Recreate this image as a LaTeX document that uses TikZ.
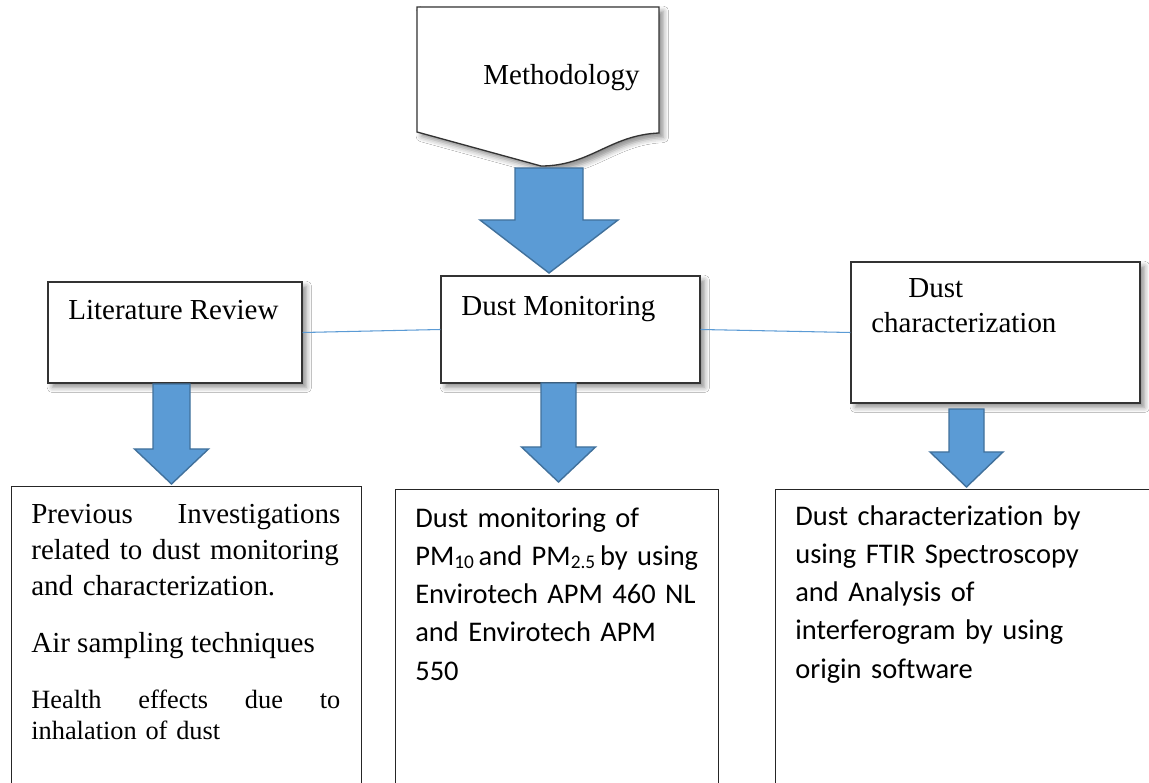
\documentclass[tikz,border=0pt]{standalone}
\usepackage{fontspec}
\setmainfont{Liberation Serif}
\newfontfamily\calibri[Ligatures=NoCommon]{Carlito}
\usetikzlibrary{shadows.blur}

\definecolor{arrowfill}{HTML}{5B9BD5}
\definecolor{arrowedge}{HTML}{41719C}

\newcommand{\pmsub}[1]{\raisebox{-0.2ex}{\fontsize{11}{11}\selectfont #1}}

\tikzset{
	headbox/.style={draw=black!80, fill=white, line width=0.75pt, inner sep=0pt,
		blur shadow={shadow xshift=2.5pt, shadow yshift=-2.5pt, shadow blur radius=3pt, shadow opacity=45}},
	listbox/.style={draw=black!85, fill=white, line width=0.6pt, inner sep=0pt, anchor=north west},
	blockarrow/.style={draw=arrowedge, fill=arrowfill, line width=0.8pt, line join=miter},
	link/.style={draw=arrowfill, line width=0.6pt},
	serif/.style={inner sep=0pt, anchor=base west, font=\fontsize{16.5}{20.5}\selectfont},
	sans/.style={inner sep=0pt, anchor=base west, font=\calibri\fontsize{16.2}{21.8}\selectfont}
}

\begin{document}
\begin{tikzpicture}[x=0.02cm, y=-0.02cm]
	\useasboundingbox [fill=white] (0, 0) rectangle (1149, 783);
	\clip (0, 0) rectangle (1149, 783);

	% top shape
	\draw [headbox] (417, 7) -- (659, 7) -- (659, 133)
		.. controls (610, 135) and (590, 166) .. (541, 166) -- (417, 132) -- cycle;
	\node [serif] (method) at (483, 85) {Methodology};

	% second row
	\node [headbox, minimum width=5.08cm, minimum height=2.02cm] (lit) at (175, 332.5) {};
	\node [headbox, minimum width=5.18cm, minimum height=2.14cm] (mon) at (570.5, 329.5) {};
	\node [headbox, minimum width=5.78cm, minimum height=2.82cm] (char) at (995.5, 332.5) {};

	\node [serif] (littext) at (68, 320) {Literature Review};
	\node [serif] (montext) at (461, 316) {Dust Monitoring};
	\node [serif] (chartext1) at (908, 298) {Dust};
	\node [serif] (chartext2) at (871, 333) {characterization};

	\draw [link] (lit.east) -- (mon.west);
	\draw [link] (mon.east) -- (char.west);

	% block arrows: centre x / top / neck / tip / half shaft / half head
	\foreach \ax/\ya/\yb/\yc/\sw/\hw in {549/168/220/273/34/69,
			171.5/384/449/484/18.5/37,
			558.5/383/447/482/17.5/37,
			966.5/409/452/487/17.5/36.5} {
		\draw [blockarrow] (\ax-\sw, \ya) -- (\ax+\sw, \ya) -- (\ax+\sw, \yb) --
			(\ax+\hw, \yb) -- (\ax, \yc) -- (\ax-\hw, \yb) -- (\ax-\sw, \yb) -- cycle;
	}

	% bottom row, cut off by the page
	\node [listbox, minimum width=7cm, minimum height=7cm] (review) at (11, 486) {};
	\node [listbox, minimum width=6.46cm, minimum height=7cm] (monitor) at (395, 489) {};
	\node [listbox, minimum width=8cm, minimum height=7cm] (charact) at (775, 489) {};

	\node [serif, text width=6.18cm, align=left] (reviewtext1) at (31, 523)
		{\makebox[6.18cm][l]{Previous\hfill Investigations}\\
		related to dust monitoring\\
		and characterization.};
	\node [serif] (reviewtext2) at (31, 652) {Air sampling techniques};
	\node [serif, text width=6.18cm, align=left, font=\fontsize{15}{18.2}\selectfont] (reviewtext3) at (31, 708)
		{\makebox[6.18cm][l]{Health\hfill effects\hfill due\hfill to}\\
		inhalation of dust};

	\node [sans, text width=7cm, align=left] (monitortext) at (415, 527)
		{Dust monitoring of\\
		PM\pmsub{10}\,and PM\pmsub{2.5}\,by using\\
		Envirotech APM 460 NL\\
		and Envirotech APM\\
		550};
	\node [sans, text width=7cm, align=left] (characttext) at (795, 525)
		{Dust characterization by\\
		using FTIR Spectroscopy\\
		and Analysis of\\
		interferogram by using\\
		origin software};
\end{tikzpicture}
\end{document}
